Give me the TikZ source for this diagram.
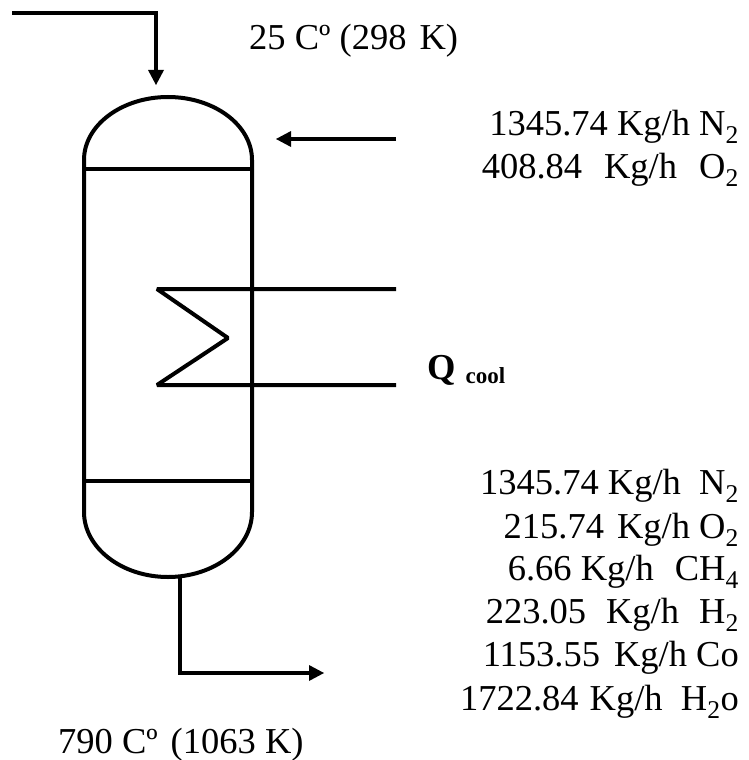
\documentclass[tikz,border=0pt]{standalone}
\usepackage{fontspec}
\setmainfont{Liberation Serif}
\usetikzlibrary{arrows.meta}
\tikzset{
 line/.style={line width=4pt,line join=miter},
 flow/.style={line width=4pt,line join=miter,-{Triangle[length=15pt,width=16pt,line width=0pt]}},
 lab/.style={font=\fontsize{36.5pt}{43pt}\selectfont,inner sep=0pt,anchor=base east,text=black},
 lbl/.style={font=\fontsize{36.5pt}{43pt}\selectfont,inner sep=0pt,anchor=base west,text=black}
}
\newcommand{\sbs}[1]{\textsubscript{#1}}
\begin{document}
\begin{tikzpicture}[x=1pt,y=-1pt]
\useasboundingbox (0,0) rectangle (748,760);
% feed
\coordinate (f0) at (12,13);
\coordinate (f1) at (156,13);
\coordinate (f2) at (156,85);
\draw[flow] (f0) -- (f1) -- (f2);
% vessel
\draw[line] (84,169) -- (84,160) .. controls (84,125) and (122,97) .. (168,97) .. controls (214,97) and (252,125) .. (252,160) -- (252,169);
\draw[line] (84,169) -- (252,169);
\draw[line] (84,169) -- (84,512) .. controls (84,548) and (122,577) .. (168,577) .. controls (214,577) and (252,548) .. (252,512) -- (252,169);
\draw[line] (84,481) -- (252,481);
% air
\coordinate (a0) at (396,139);
\coordinate (a1) at (276,139);
\draw[flow] (a0) -- (a1);
% coil
\coordinate (c0) at (396,289);
\coordinate (c1) at (157,289);
\coordinate (c2) at (228,338);
\coordinate (c3) at (157,385);
\coordinate (c4) at (396,385);
\draw[line,line join=bevel] (c0) -- (c1) -- (c2) -- (c3) -- (c4);
% outlet
\coordinate (o0) at (180,577);
\coordinate (o1) at (180,673);
\coordinate (o2) at (324,673);
\draw[flow] (o0) -- (o1) -- (o2);
% labels
\node[lbl] (t1) at (249,50) {25 Cº (298\hspace{13pt}K)};
\node[lab] (t2) at (739,135) {1345.74 Kg/h N\sbs{2}};
\node[lab] (t3) at (739,178) {408.84\hspace{22pt}Kg/h\hspace{22pt}O\sbs{2}};
\node[lbl] (t4) at (427,379) {\fontsize{36.5pt}{43pt}\selectfont\textbf{Q}\hspace{10pt}\raisebox{-4pt}{\fontsize{23pt}{26pt}\selectfont\textbf{cool}}};
\node[lab] (t5) at (739,494) {1345.74 Kg/h\ \ N\sbs{2}};
\node[lab] (t6) at (739,538) {215.74\hspace{13pt}Kg/h O\sbs{2}};
\node[lab] (t7) at (739,580) {6.66 Kg/h\hspace{21pt}CH\sbs{4}};
\node[lab] (t8) at (739,623) {223.05\hspace{20pt}Kg/h\hspace{20pt}H\sbs{2}};
\node[lab] (t9) at (739,666) {1153.55\hspace{14pt}Kg/h Co};
\node[lab] (t10) at (739,710) {1722.84\hspace{11pt}Kg/h\ \ H\sbs{2}o};
\node[lbl] (t11) at (58,753) {790 Cº\hspace{13pt}(1063 K)};
\end{tikzpicture}
\end{document}
